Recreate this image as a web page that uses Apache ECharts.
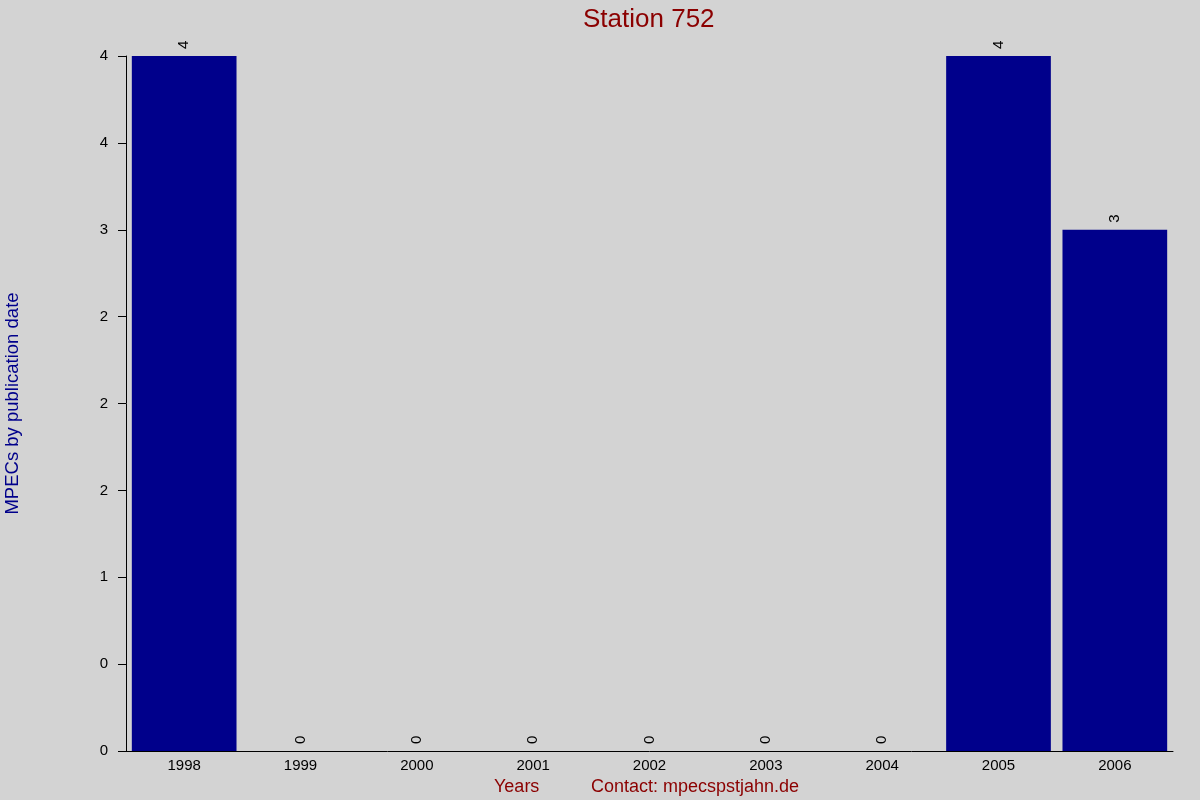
<!DOCTYPE html>
<html>
<head>
<meta charset="utf-8">
<script src="https://cdn.jsdelivr.net/npm/echarts@6/dist/echarts.min.js"></script>
<style>html,body{margin:0;padding:0;background:#D3D3D3;}#c{width:1200px;height:800px;}</style>
</head>
<body>
<div id="c"></div>
<script>
const categories = ['1998','1999','2000','2001','2002','2003','2004','2005','2006'];
const values = [4, 0, 0, 0, 0, 0, 0, 4, 3];
const yTickLabels = ['0','0','1','2','2','2','3','4','4'];
const yStep = 0.5;

const chart = echarts.init(document.getElementById('c'));
chart.setOption({
  backgroundColor: '#D3D3D3',
  animation: false,
  textStyle: { fontFamily: 'Liberation Sans, Arial, sans-serif' },
  title: [
    { text: 'Station 752', left: 578, top: 2, textStyle: { color: '#8B0000', fontSize: 26, fontWeight: 'normal', fontFamily: 'Liberation Sans' } },
    { text: 'Years', left: 489, top: 773, textStyle: { color: '#8B0000', fontSize: 18, fontWeight: 'normal', fontFamily: 'Liberation Sans' } },
    { text: 'Contact: mpecspstjahn.de', left: 586, top: 773, textStyle: { color: '#8B0000', fontSize: 18, fontWeight: 'normal', fontFamily: 'Liberation Sans' } }
  ],
  grid: { left: 126, right: 27, top: 56, bottom: 49, containLabel: false, outerBoundsMode: 'none' },
  xAxis: {
    type: 'category',
    data: categories,
    axisLine: { lineStyle: { color: '#000', width: 1 } },
    axisTick: { show: false },
    axisLabel: { color: '#000', fontSize: 15, margin: 7 }
  },
  yAxis: {
    type: 'value',
    min: 0, max: 4, interval: yStep,
    name: 'MPECs by publication date',
    nameLocation: 'middle',
    nameGap: 104,
    nameTextStyle: { color: '#00008B', fontSize: 18.5 },
    axisLine: { show: true, lineStyle: { color: '#000', width: 1 } },
    axisTick: { show: true, length: 8, lineStyle: { color: '#000' } },
    splitLine: { show: false },
    axisLabel: {
      color: '#000', fontSize: 15, margin: 18,
      formatter: function (v) { return yTickLabels[Math.round(v / yStep)]; }
    }
  },
  series: [{
    type: 'bar',
    data: values,
    barCategoryGap: '10%',
    itemStyle: { color: '#00008B' },
    label: {
      show: true,
      position: 'top',
      rotate: 90,
      align: 'left',
      verticalAlign: 'middle',
      distance: 7,
      color: '#000',
      fontSize: 15
    }
  }]
});
</script>
</body>
</html>
